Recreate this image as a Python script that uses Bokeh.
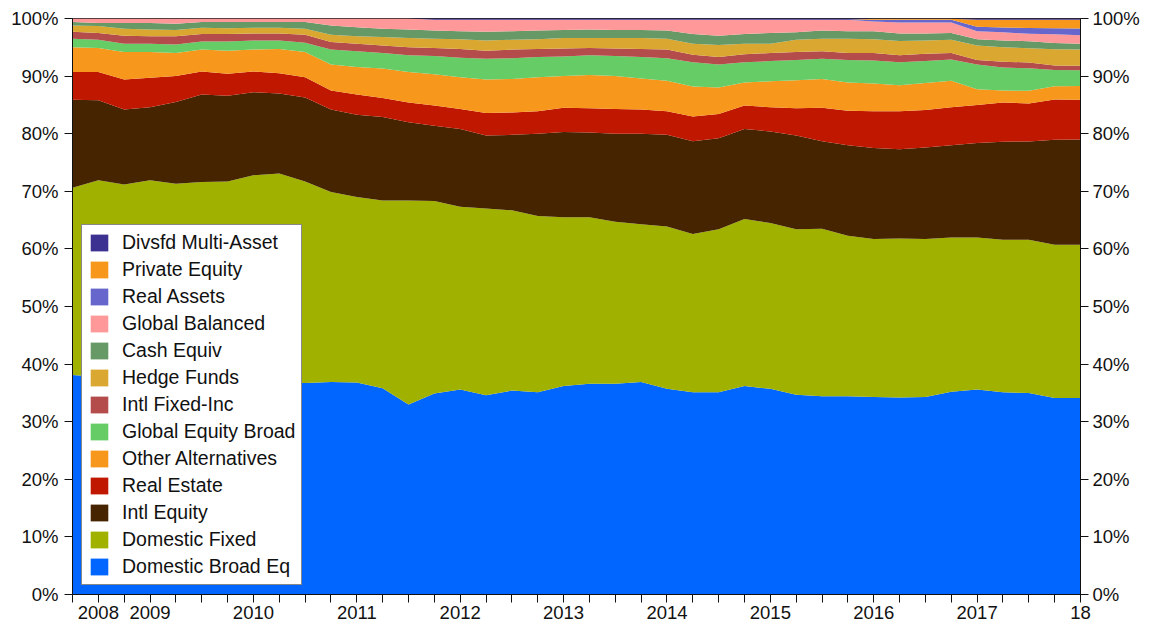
from bokeh.plotting import figure
from bokeh.models import ColumnDataSource, Range1d, FixedTicker, LinearAxis, Legend, LegendItem
from bokeh.embed import file_html
from bokeh.resources import INLINE

# quarterly observations (index positions along the x axis)
quarters = list(range(40))
year_ticks = [1, 3, 7, 11, 15, 19, 23, 27, 31, 35, 39]
year_labels = ["2008", "2009", "2010", "2011", "2012", "2013", "2014", "2015", "2016", "2017", "18"]
pct_ticks = [0, 10, 20, 30, 40, 50, 60, 70, 80, 90, 100]

domestic_broad_eq = [38.1, 37.8, 37.5, 37.6, 37.2, 37.0, 37.3, 37.0, 36.8, 36.7,
                     36.9, 36.8, 35.8, 33.0, 34.9, 35.6, 34.6, 35.4, 35.1, 36.2,
                     36.6, 36.6, 36.9, 35.7, 35.1, 35.1, 36.2, 35.7, 34.7, 34.4,
                     34.4, 34.3, 34.2, 34.3, 35.2, 35.6, 35.1, 35.0, 34.1, 34.1]
domestic_fixed = [32.5, 34.1, 33.7, 34.3, 34.1, 34.6, 34.4, 35.8, 36.3, 35.0,
                  33.0, 32.2, 32.6, 35.4, 33.4, 31.7, 32.4, 31.3, 30.6, 29.3,
                  28.9, 28.1, 27.4, 28.2, 27.5, 28.3, 29.0, 28.8, 28.7, 29.1,
                  27.9, 27.4, 27.6, 27.4, 26.8, 26.4, 26.5, 26.6, 26.6, 26.6]
intl_equity = [15.3, 13.9, 13.0, 12.7, 14.2, 15.2, 14.9, 14.4, 13.9, 14.6,
               14.3, 14.3, 14.5, 13.6, 13.1, 13.5, 12.7, 13.1, 14.3, 14.8,
               14.7, 15.3, 15.7, 15.9, 16.1, 15.8, 15.6, 15.9, 16.3, 15.2,
               15.7, 15.8, 15.5, 15.9, 16.0, 16.4, 17.0, 17.1, 18.2, 18.3]
real_estate = [4.8, 4.9, 5.2, 5.1, 4.5, 4.0, 3.8, 3.6, 3.5, 3.5,
               3.3, 3.5, 3.3, 3.4, 3.5, 3.5, 3.9, 3.9, 3.9, 4.2,
               4.2, 4.3, 4.2, 4.1, 4.3, 4.2, 4.1, 4.2, 4.7, 5.8,
               6.0, 6.4, 6.6, 6.5, 6.6, 6.6, 6.8, 6.6, 7.0, 6.9]
other_alternatives = [4.3, 4.2, 4.8, 4.5, 4.0, 3.8, 4.0, 3.8, 4.2, 4.4,
                      4.5, 4.8, 5.1, 5.3, 5.4, 5.5, 5.8, 5.8, 5.9, 5.5,
                      5.8, 5.7, 5.4, 5.3, 5.2, 4.6, 4.0, 4.5, 4.9, 5.0,
                      4.9, 4.8, 4.5, 4.7, 4.6, 2.7, 2.1, 2.2, 2.3, 2.4]
global_equity_broad = [1.5, 1.4, 1.4, 1.4, 1.5, 1.4, 1.6, 1.6, 1.5, 1.6,
                       2.6, 2.7, 2.7, 2.9, 3.2, 3.4, 3.6, 3.6, 3.5, 3.4,
                       3.4, 3.5, 3.7, 3.9, 4.2, 4.0, 3.5, 3.5, 3.5, 3.5,
                       3.9, 4.0, 4.0, 3.8, 3.7, 4.3, 4.0, 3.9, 2.8, 2.7]
intl_fixed_inc = [1.2, 1.2, 1.4, 1.3, 1.4, 1.3, 1.3, 1.2, 1.2, 1.4,
                  1.3, 1.3, 1.3, 1.4, 1.4, 1.5, 1.4, 1.5, 1.4, 1.4,
                  1.3, 1.3, 1.4, 1.5, 1.3, 1.3, 1.4, 1.4, 1.4, 1.3,
                  1.2, 1.3, 1.2, 1.3, 1.1, 0.8, 1.0, 1.0, 0.8, 0.8]
hedge_funds = [1.1, 1.2, 1.2, 1.2, 1.1, 1.1, 1.0, 1.0, 1.0, 1.0,
               1.3, 1.3, 1.5, 1.6, 1.6, 1.7, 1.8, 1.7, 1.7, 1.8,
               1.7, 1.8, 1.9, 1.9, 1.9, 2.1, 1.8, 1.6, 2.1, 2.2,
               2.5, 2.4, 2.5, 2.3, 2.3, 2.5, 2.5, 2.5, 2.8, 2.8]
cash_equiv = [0.6, 0.5, 1.0, 1.1, 1.1, 1.0, 1.1, 1.0, 1.0, 1.2,
              1.6, 1.6, 1.4, 1.5, 1.4, 1.4, 1.5, 1.5, 1.5, 1.4,
              1.5, 1.4, 1.4, 1.4, 1.7, 1.6, 1.7, 1.9, 1.3, 1.4,
              1.3, 1.4, 1.3, 1.2, 1.2, 1.1, 1.2, 1.2, 1.1, 1.0]
global_balanced = [0.6, 0.8, 0.8, 0.8, 0.9, 0.6, 0.6, 0.6, 0.6, 0.6,
                   1.2, 1.5, 1.8, 1.9, 1.9, 2.0, 2.1, 2.0, 1.9, 1.8,
                   1.7, 1.8, 1.8, 1.9, 2.5, 2.8, 2.5, 2.3, 2.2, 1.9,
                   2.0, 1.7, 1.9, 1.9, 1.8, 1.4, 1.4, 1.3, 1.5, 1.5]
real_assets = [0, 0, 0, 0, 0, 0, 0, 0, 0, 0,
               0, 0, 0, 0, 0, 0, 0, 0, 0, 0,
               0, 0, 0, 0, 0, 0, 0, 0, 0, 0,
               0, 0.3, 0.5, 0.5, 0.5, 0.75, 0.85, 1.0, 1.05, 1.15]
private_equity = [0, 0, 0, 0, 0, 0, 0, 0, 0, 0,
                  0, 0, 0, 0, 0, 0, 0, 0, 0, 0,
                  0, 0, 0, 0, 0, 0, 0, 0, 0, 0,
                  0, 0.15, 0.15, 0.15, 0.15, 1.25, 1.35, 1.45, 1.5, 1.55]
divsfd_multi_asset = [0, 0, 0, 0, 0, 0, 0, 0, 0, 0,
                      0, 0, 0, 0, 0.2, 0.2, 0.2, 0.2, 0.2, 0.2,
                      0.2, 0.2, 0.2, 0.2, 0.2, 0.2, 0.2, 0.2, 0.2, 0.2,
                      0.2, 0.05, 0.05, 0.05, 0.05, 0.2, 0.2, 0.2, 0.2, 0.2]

series_names = ["Domestic Broad Eq", "Domestic Fixed", "Intl Equity", "Real Estate",
                "Other Alternatives", "Global Equity Broad", "Intl Fixed-Inc", "Hedge Funds",
                "Cash Equiv", "Global Balanced", "Real Assets", "Private Equity",
                "Divsfd Multi-Asset"]
series_values = [domestic_broad_eq, domestic_fixed, intl_equity, real_estate,
                 other_alternatives, global_equity_broad, intl_fixed_inc, hedge_funds,
                 cash_equiv, global_balanced, real_assets, private_equity,
                 divsfd_multi_asset]
series_colors = ["#0066FF", "#A0B100", "#472400", "#C01800",
                 "#F7981D", "#66CC66", "#B44C4C", "#DAA830",
                 "#669966", "#FF9999", "#6666CC", "#F7981D",
                 "#3C3090"]

# normalise each quarter to a 100% share
totals = [sum(vals[i] for vals in series_values) for i in range(len(quarters))]
data = {"x": quarters}
keys = []
for k, vals in enumerate(series_values):
    key = f"s{k}"
    keys.append(key)
    data[key] = [v * 100.0 / t for v, t in zip(vals, totals)]
src = ColumnDataSource(data)

FONT = "Liberation Sans"

p = figure(width=1150, height=624, x_range=Range1d(0, 39), y_range=Range1d(0, 100),
           output_backend="svg", toolbar_location=None,
           min_border_left=72, min_border_right=70, min_border_top=18, min_border_bottom=30)
p.background_fill_color = "white"
p.border_fill_color = "white"
p.outline_line_color = "#222222"
p.xgrid.visible = False
p.ygrid.visible = False

renderers = p.varea_stack(stackers=keys, x="x", color=series_colors, source=src)

right_axis = LinearAxis()
p.add_layout(right_axis, "right")

xa = p.xaxis[0]
xa.ticker = FixedTicker(ticks=quarters)
xa.major_label_overrides = {q: "" for q in quarters}
xa.major_label_overrides.update({t: lab for t, lab in zip(year_ticks, year_labels)})
xa.major_label_standoff = 3

p.yaxis[0].major_label_standoff = 6
right_axis.major_label_standoff = 4
for ya in (p.yaxis[0], right_axis):
    ya.ticker = FixedTicker(ticks=pct_ticks)
    ya.major_label_overrides = {t: f"{t}%" for t in pct_ticks}

for ax in (xa, p.yaxis[0], right_axis):
    ax.major_label_text_font = FONT
    ax.major_label_text_font_size = "18.5px"
    ax.major_label_text_color = "#111111"
    ax.major_tick_out = 8
    ax.major_tick_in = 0
    ax.minor_tick_out = 0
    ax.minor_tick_in = 0
    ax.axis_line_color = "#111111"
    ax.major_tick_line_color = "#111111"

items = [LegendItem(label=n, renderers=[r]) for n, r in zip(series_names, renderers)]
items.reverse()
legend = Legend(items=items, location="bottom_left")
legend.margin = 9
legend.padding = 6
legend.spacing = 4
legend.glyph_width = 22
legend.glyph_height = 21
legend.label_height = 21
legend.label_standoff = 12
legend.label_text_font = FONT
legend.label_text_font_size = "19.5px"
legend.label_text_color = "#111111"
legend.border_line_color = "#111111"
legend.border_line_width = 1
legend.background_fill_color = "white"
legend.background_fill_alpha = 1.0
p.add_layout(legend)

open("out.html", "w").write(file_html(p, INLINE))
